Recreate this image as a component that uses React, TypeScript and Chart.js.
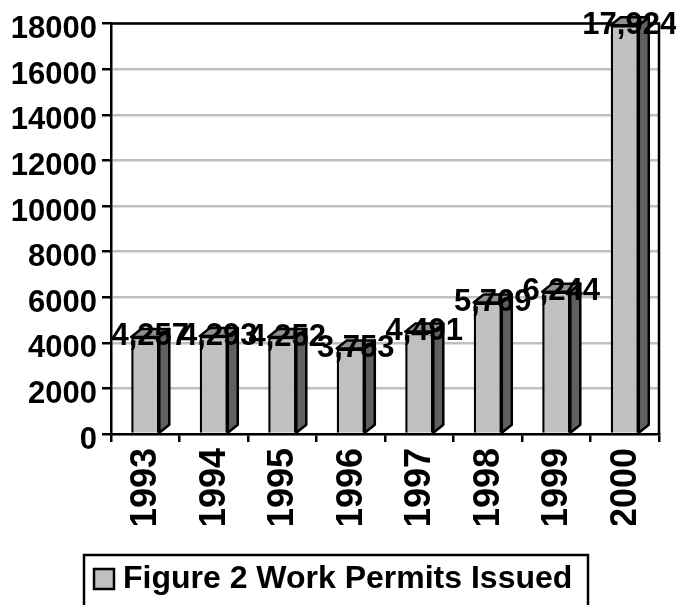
import React, { useEffect, useRef } from "react";
import { Chart, registerables } from "chart.js";
Chart.register(...registerables);

const years = ["1993", "1994", "1995", "1996", "1997", "1998", "1999", "2000"];
const permits = [4257, 4293, 4252, 3753, 4491, 5769, 6244, 17924];
const valueLabels = ["4,257", "4,293", "4,252", "3,753", "4,491", "5,769", "6,244", "17,924"];
const seriesName = "Figure 2 Work Permits Issued";
const FONT = '"Liberation Sans", Arial, sans-serif';
const DX = 10, DY = 8;

const bars3d = {
  id: "bars3d",
  afterDatasetsDraw(chart: any) {
    const ctx = chart.ctx;
    const meta = chart.getDatasetMeta(0);
    ctx.save();
    ctx.lineWidth = 2.5;
    ctx.strokeStyle = "#000";
    ctx.lineJoin = "round";
    meta.data.forEach((b: any) => {
      const l = b.x - b.width / 2, r = b.x + b.width / 2, t = b.y, bot = b.base;
      ctx.fillStyle = "#606060";
      ctx.beginPath();
      ctx.moveTo(r, t); ctx.lineTo(r + DX, t - DY); ctx.lineTo(r + DX, bot - DY); ctx.lineTo(r, bot); ctx.closePath();
      ctx.fill(); ctx.stroke();
      ctx.fillStyle = "#909090";
      ctx.beginPath();
      ctx.moveTo(l, t); ctx.lineTo(l + DX, t - DY); ctx.lineTo(r + DX, t - DY); ctx.lineTo(r, t); ctx.closePath();
      ctx.fill(); ctx.stroke();
    });
    ctx.fillStyle = "#000";
    ctx.font = `bold 31px ${FONT}`;
    ctx.textAlign = "center";
    ctx.textBaseline = "middle";
    meta.data.forEach((b: any, i: number) => {
      ctx.fillText(valueLabels[i], b.x + 5, b.y);
    });
    ctx.restore();
  },
};

const frame = {
  id: "frame",
  beforeDatasetsDraw(chart: any) {
    const { ctx, chartArea: a } = chart;
    ctx.save();
    ctx.strokeStyle = "#000";
    ctx.lineWidth = 2.5;
    ctx.beginPath();
    ctx.moveTo(a.left, a.top); ctx.lineTo(a.right, a.top); ctx.lineTo(a.right, a.bottom);
    ctx.stroke();
    ctx.restore();
  },
};

const legendBox = {
  id: "legendBox",
  afterDraw(chart: any) {
    const ctx = chart.ctx;
    ctx.save();
    // the reference's rotated year labels are cut off at this line
    ctx.fillStyle = "#fff";
    ctx.fillRect(100, 525, 576, 25);
    ctx.strokeStyle = "#000";
    ctx.lineWidth = 2.5;
    ctx.strokeRect(84, 555, 504, 60);
    ctx.fillStyle = "#c0c0c0";
    ctx.fillRect(94, 569, 20, 20);
    ctx.strokeRect(94, 569, 20, 20);
    ctx.fillStyle = "#000";
    ctx.font = `bold 32px ${FONT}`;
    ctx.textBaseline = "middle";
    ctx.fillText(seriesName, 123, 579);
    ctx.restore();
  },
};

export default function App() {
  const ref = useRef<HTMLCanvasElement>(null);
  useEffect(() => {
    const chart = new Chart(ref.current!, {
      type: "bar",
      data: {
        labels: years,
        datasets: [{
          label: seriesName,
          data: permits,
          backgroundColor: "#c0c0c0",
          borderColor: "#000",
          borderWidth: 2.5,
          barPercentage: 0.41,
          categoryPercentage: 1,
        }],
      },
      options: {
        responsive: false,
        animation: false,
        layout: { padding: { left: 0, right: 17, top: 23, bottom: 0 } },
        plugins: { legend: { display: false }, title: { display: false }, tooltip: { enabled: false } },
        scales: {
          y: {
            min: 0, max: 18000,
            afterFit(s: any) { s.width = 111; },
            ticks: {
              stepSize: 2000, color: "#000", padding: 5, labelOffset: 6,
              font: { family: FONT, weight: "bold", size: 31 },
              callback: (v: any) => String(v),
            },
            grid: { color: "#c0c0c0", lineWidth: 2.5, drawTicks: true, tickColor: "#000", tickLength: 9 },
            border: { color: "#000", width: 2.5 },
          },
          x: {
            afterFit(s: any) { s.height = 171; },
            ticks: {
              color: "#000", maxRotation: 90, minRotation: 90, padding: 6, labelOffset: 1,
              font: { family: FONT, weight: "bold", size: 36 },
            },
            grid: { display: true, drawOnChartArea: false, drawTicks: true, tickColor: "#000", tickLength: 8, lineWidth: 2.5 },
            border: { color: "#000", width: 2.5 },
          },
        },
      },
      plugins: [frame, bars3d, legendBox],
    } as any);
    return () => chart.destroy();
  }, []);
  return <canvas ref={ref} width={676} height={605} style={{ position: "fixed", left: 0, top: 0, display: "block" }} />;
}
